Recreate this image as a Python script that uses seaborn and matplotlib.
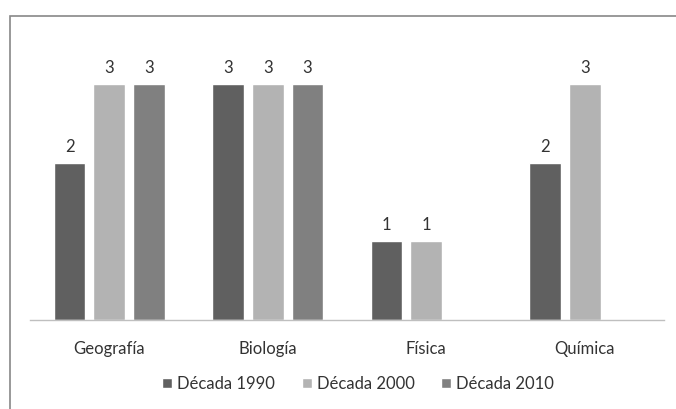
import matplotlib
matplotlib.use("Agg")
import matplotlib.pyplot as plt
from matplotlib.patches import Rectangle
import seaborn as sns
import pandas as pd
import numpy as np

# --- Datos ---
materias = ["Geografía", "Biología", "Física", "Química"]
decadas = ["Década 1990", "Década 2000", "Década 2010"]
d1990 = [2, 3, 1, 2]
d2000 = [3, 3, 1, 3]
d2010 = [3, 3, np.nan, np.nan]
colores = ["#606060", "#b3b3b3", "#808080"]

filas = []
for dec, vals in zip(decadas, [d1990, d2000, d2010]):
    for m, v in zip(materias, vals):
        filas.append({"Materia": m, "Década": dec, "Valor": v})
df = pd.DataFrame(filas).dropna()

sns.set_style("white")
plt.rcParams["font.family"] = ["Lato", "DejaVu Sans"]
texto = "#333333"
fs = 12

fig = plt.figure(figsize=(6.76, 4.09), dpi=100)
ax = fig.add_axes([30 / 676, 89 / 409, 634 / 676, 275 / 409])

sns.barplot(data=df, x="Materia", y="Valor", hue="Década", order=materias,
            hue_order=decadas, palette=colores, width=0.75, gap=0.2,
            saturation=1, errorbar=None, ax=ax)

for cont in ax.containers:
    ax.bar_label(cont, fmt="{:.0f}", padding=6, fontsize=fs, color=texto)

ax.set_xlim(-0.5, 3.5)
ax.set_ylim(0, 3.5)
ax.set_xlabel("")
ax.set_ylabel("")
ax.set_yticks([])
ax.tick_params(axis="x", length=0, pad=15, labelsize=fs, labelcolor=texto)
for lado in ["top", "right", "left"]:
    ax.spines[lado].set_visible(False)
ax.spines["bottom"].set_color("#bfbfbf")
ax.spines["bottom"].set_linewidth(1)

ax.legend(loc="center", bbox_to_anchor=(0.53, 25 / 409), bbox_transform=fig.transFigure,
          ncol=3, frameon=False, fontsize=fs, handlelength=0.6, handleheight=0.6,
          handletextpad=0.3, columnspacing=1.6, labelcolor=texto)

# marco del gráfico
fig.patches.append(Rectangle((10 / 676, -0.1), 1.0, (409 - 16) / 409 + 0.1,
                             transform=fig.transFigure, fill=False,
                             edgecolor="#888888", linewidth=1.2))

fig.savefig("out.png", dpi=100)
